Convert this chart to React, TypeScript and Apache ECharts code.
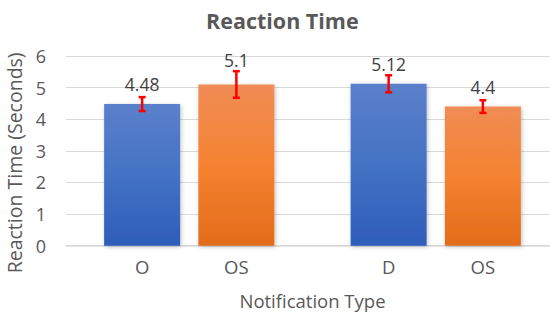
import React, { useEffect, useRef } from "react";
import * as echarts from "echarts";

// ---- data ----
const groups = ["Group 1", "Group 2"];
const blueNames = ["O", "D"];
const orangeNames = ["OS", "OS"];
const blueValues = [4.48, 5.12];
const orangeValues = [5.1, 4.4];
const blueErrors = [0.22, 0.27];
const orangeErrors = [0.42, 0.2];
const yMin = 0;
const yMax = 6;
const yInterval = 1;

const FONT = '"Open Sans", "Noto Sans", sans-serif';
const BAR_W = 76;
const BAR_GAP = 0.24;
const OFFSET = (BAR_W * (1 + BAR_GAP)) / 2;

function errorSeries(values: number[], errors: number[], names: string[], side: number) {
  return {
    type: "custom",
    clip: false,
    z: 10,
    silent: true,
    data: values.map((v, i) => [i, v, errors[i]]),
    encode: { x: 0, y: 1 },
    renderItem: (params: any, api: any) => {
      const i = api.value(0);
      const v = api.value(1);
      const e = api.value(2);
      const c = api.coord([i, v]);
      const x = c[0] + side * OFFSET;
      const top = api.coord([i, v + e])[1];
      const bot = api.coord([i, v - e])[1];
      const base = api.coord([i, 0])[1];
      const cap = 3.5;
      const st = { stroke: "#FF0000", lineWidth: 2.5 };
      return {
        type: "group",
        children: [
          { type: "line", shape: { x1: x, y1: top, x2: x, y2: bot }, style: st },
          { type: "line", shape: { x1: x - cap, y1: top, x2: x + cap, y2: top }, style: st },
          { type: "line", shape: { x1: x - cap, y1: bot, x2: x + cap, y2: bot }, style: st },
          {
            type: "text",
            x,
            y: base + 21,
            style: {
              text: names[params.dataIndex],
              fill: "#595959",
              font: `18.5px ${FONT}`,
              align: "center",
              verticalAlign: "middle",
            },
          },
        ],
      };
    },
  };
}

function gradient(top: string, mid: string, bottom: string) {
  return new echarts.graphic.LinearGradient(0, 0, 0, 1, [
    { offset: 0, color: top },
    { offset: 0.5, color: mid },
    { offset: 1, color: bottom },
  ]);
}

export default function App() {
  const ref = useRef<HTMLDivElement>(null);
  useEffect(() => {
    if (!ref.current) return;
    const chart = echarts.init(ref.current, null, { renderer: "svg" });
    const shadow = {
      shadowBlur: 4,
      shadowColor: "rgba(0,0,0,0.25)",
      shadowOffsetX: 1,
      shadowOffsetY: 1,
    };
    const labelStyle = {
      show: true,
      position: "top",
      distance: 11,
      color: "#404040",
      fontSize: 17.5,
      fontFamily: FONT,
    };
    chart.setOption({
      animation: false,
      backgroundColor: "#ffffff",
      title: {
        text: "Reaction Time",
        left: 201,
        top: 4,
        textStyle: { fontFamily: FONT, fontSize: 21.5, fontWeight: "bold", color: "#595959" },
      },
      grid: {
        left: 66,
        top: 56,
        right: 11,
        bottom: 67.3,
        outerBoundsMode: "none",
        containLabel: false,
      },
      xAxis: {
        type: "category",
        data: groups,
        axisLabel: { show: false },
        axisTick: { show: false },
        axisLine: { lineStyle: { color: "#D9D9D9", width: 1.5 } },
        name: "Notification Type",
        nameLocation: "middle",
        nameGap: 45,
        nameTextStyle: { fontFamily: FONT, fontSize: 18.5, color: "#595959" },
      },
      yAxis: {
        type: "value",
        min: yMin,
        max: yMax,
        interval: yInterval,
        axisLine: { show: false },
        axisTick: { show: false },
        splitLine: { lineStyle: { color: "#D9D9D9", width: 1 } },
        axisLabel: { fontFamily: FONT, fontSize: 18, color: "#595959", margin: 20 },
        name: "Reaction Time (Seconds)",
        nameLocation: "middle",
        nameGap: 25,
        nameTextStyle: {
          fontFamily: FONT,
          fontSize: 19.5,
          color: "#595959",
          padding: [0, 24, 0, 0],
        },
      },
      series: [
        {
          type: "bar",
          barWidth: BAR_W,
          barGap: `${BAR_GAP * 100}%`,
          data: blueValues.map((v) => ({ value: v })),
          itemStyle: { color: gradient("#5B80CB", "#4472C4", "#2D5DBA"), ...shadow },
          label: labelStyle,
        },
        {
          type: "bar",
          barWidth: BAR_W,
          barGap: `${BAR_GAP * 100}%`,
          data: orangeValues.map((v, i) => ({
            value: v,
            label: i === 0 ? { distance: 15 } : undefined,
          })),
          itemStyle: { color: gradient("#F08C55", "#F48230", "#E36C1A"), ...shadow },
          label: labelStyle,
        },
        errorSeries(blueValues, blueErrors, blueNames, -1),
        errorSeries(orangeValues, orangeErrors, orangeNames, 1),
      ],
    });
    return () => chart.dispose();
  }, []);
  return (
    <div
      style={{
        position: "absolute",
        left: 0,
        top: 0,
        width: 550,
        height: 313,
        overflow: "hidden",
      }}
    >
      <div ref={ref} style={{ width: 570, height: 313 }} />
    </div>
  );
}
